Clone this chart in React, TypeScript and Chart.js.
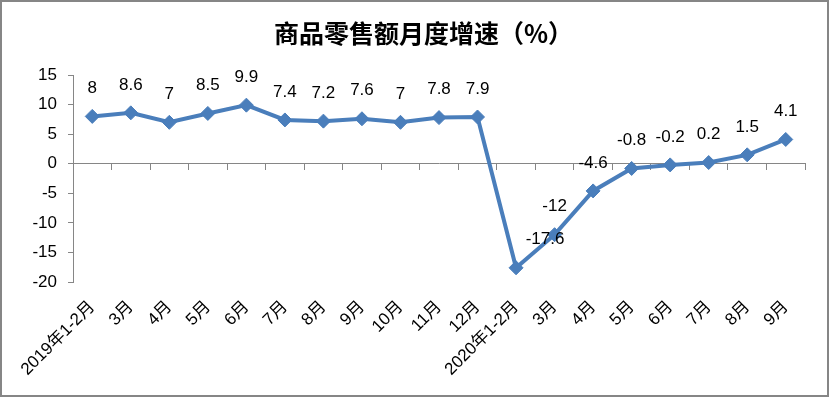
import React, { useEffect, useRef } from "react";
import { Chart, registerables } from "chart.js";

Chart.register(...registerables);

const categories = [
  "2019年1-2月", "3月", "4月", "5月", "6月", "7月", "8月", "9月", "10月", "11月", "12月",
  "2020年1-2月", "3月", "4月", "5月", "6月", "7月", "8月", "9月",
];
const growthValues = [8, 8.6, 7, 8.5, 9.9, 7.4, 7.2, 7.6, 7, 7.8, 7.9, -17.6, -12, -4.6, -0.8, -0.2, 0.2, 1.5, 4.1];
const yTickMin = -20;
const yTickMax = 15;
const yTickStep = 5;
const titleText = "商品零售额月度增速（%）";

const lineColor = "#4A7EBB";
const axisColor = "#868686";

const titlePlugin = {
  id: "customTitle",
  afterDraw(chart: any) {
    const ctx = chart.ctx;
    ctx.save();
    ctx.font = "bold 25px 'Noto Sans CJK SC', sans-serif";
    ctx.fillStyle = "#000";
    ctx.textAlign = "center";
    ctx.textBaseline = "middle";
    ctx.fillText(titleText, chart.width / 2 + 9, 31);
    ctx.restore();
  },
};

const dataLabelPlugin = {
  id: "dataLabels",
  afterDatasetsDraw(chart: any) {
    const ctx = chart.ctx;
    const meta = chart.getDatasetMeta(0);
    const data = chart.data.datasets[0].data as number[];
    ctx.save();
    ctx.font = "17px 'Liberation Sans', Arial, sans-serif";
    ctx.fillStyle = "#000";
    ctx.textAlign = "center";
    ctx.textBaseline = "middle";
    meta.data.forEach((pt: any, i: number) => {
      // Excel placed the lowest label to the right of its point
      const dx = data[i] === -17.6 ? 29 : 0;
      ctx.fillText(String(data[i]), pt.x + dx, pt.y - 28);
    });
    ctx.restore();
  },
};

export default function App() {
  const canvasRef = useRef<HTMLCanvasElement | null>(null);

  useEffect(() => {
    document.body.style.margin = "0";
    const canvas = canvasRef.current;
    if (!canvas) return;
    const chart = new Chart(canvas, {
      type: "line",
      data: {
        labels: categories,
        datasets: [
          {
            data: growthValues,
            borderColor: lineColor,
            backgroundColor: lineColor,
            borderWidth: 4,
            pointStyle: "rectRot",
            pointRadius: 7,
            pointHoverRadius: 7,
            pointBackgroundColor: lineColor,
            pointBorderColor: lineColor,
            pointBorderWidth: 1,
            tension: 0,
            xAxisID: "x",
            yAxisID: "y",
          },
        ],
      },
      options: {
        responsive: false,
        animation: false,
        events: [],
        layout: { padding: { left: 0, right: 22, top: 73, bottom: 0 } },
        plugins: {
          legend: { display: false },
          tooltip: { enabled: false },
          title: { display: false },
        },
        scales: {
          x: {
            type: "category",
            position: "bottom",
            offset: true,
            grid: { display: false, drawTicks: false },
            border: { display: false },
            ticks: {
              autoSkip: false,
              minRotation: 45,
              maxRotation: 45,
              padding: 15,
              color: "#000",
              font: { family: "'Liberation Sans', 'Noto Sans CJK SC', sans-serif", size: 17 },
            },
            afterFit: (s: any) => {
              s.height = 113;
            },
          },
          x2: {
            type: "category",
            position: { y: 0 } as any,
            offset: true,
            grid: {
              display: true,
              offset: true,
              drawOnChartArea: false,
              drawTicks: true,
              tickLength: 6,
              color: axisColor,
              lineWidth: 1,
            },
            border: { display: true, color: axisColor, width: 1 },
            ticks: { display: false, autoSkip: false },
          },
          y: {
            type: "linear",
            position: "left",
            min: yTickMin,
            max: yTickMax,
            grid: {
              display: true,
              drawOnChartArea: false,
              drawTicks: true,
              tickLength: 5,
              color: axisColor,
            },
            border: { display: true, color: axisColor, width: 1 },
            ticks: {
              stepSize: yTickStep,
              padding: 11,
              color: "#000",
              font: { family: "'Liberation Sans', Arial, sans-serif", size: 17 },
            },
            afterFit: (s: any) => {
              s.width = 71;
            },
          },
        },
      },
      plugins: [dataLabelPlugin, titlePlugin],
    });
    return () => chart.destroy();
  }, []);

  return (
    <div
      style={{
        position: "absolute",
        left: 0,
        top: 0,
        width: 829,
        height: 397,
        boxSizing: "border-box",
        border: `2px solid ${axisColor}`,
        background: "#fff",
      }}
    >
      <canvas ref={canvasRef} width={825} height={393} style={{ display: "block", width: 825, height: 393 }} />
    </div>
  );
}
